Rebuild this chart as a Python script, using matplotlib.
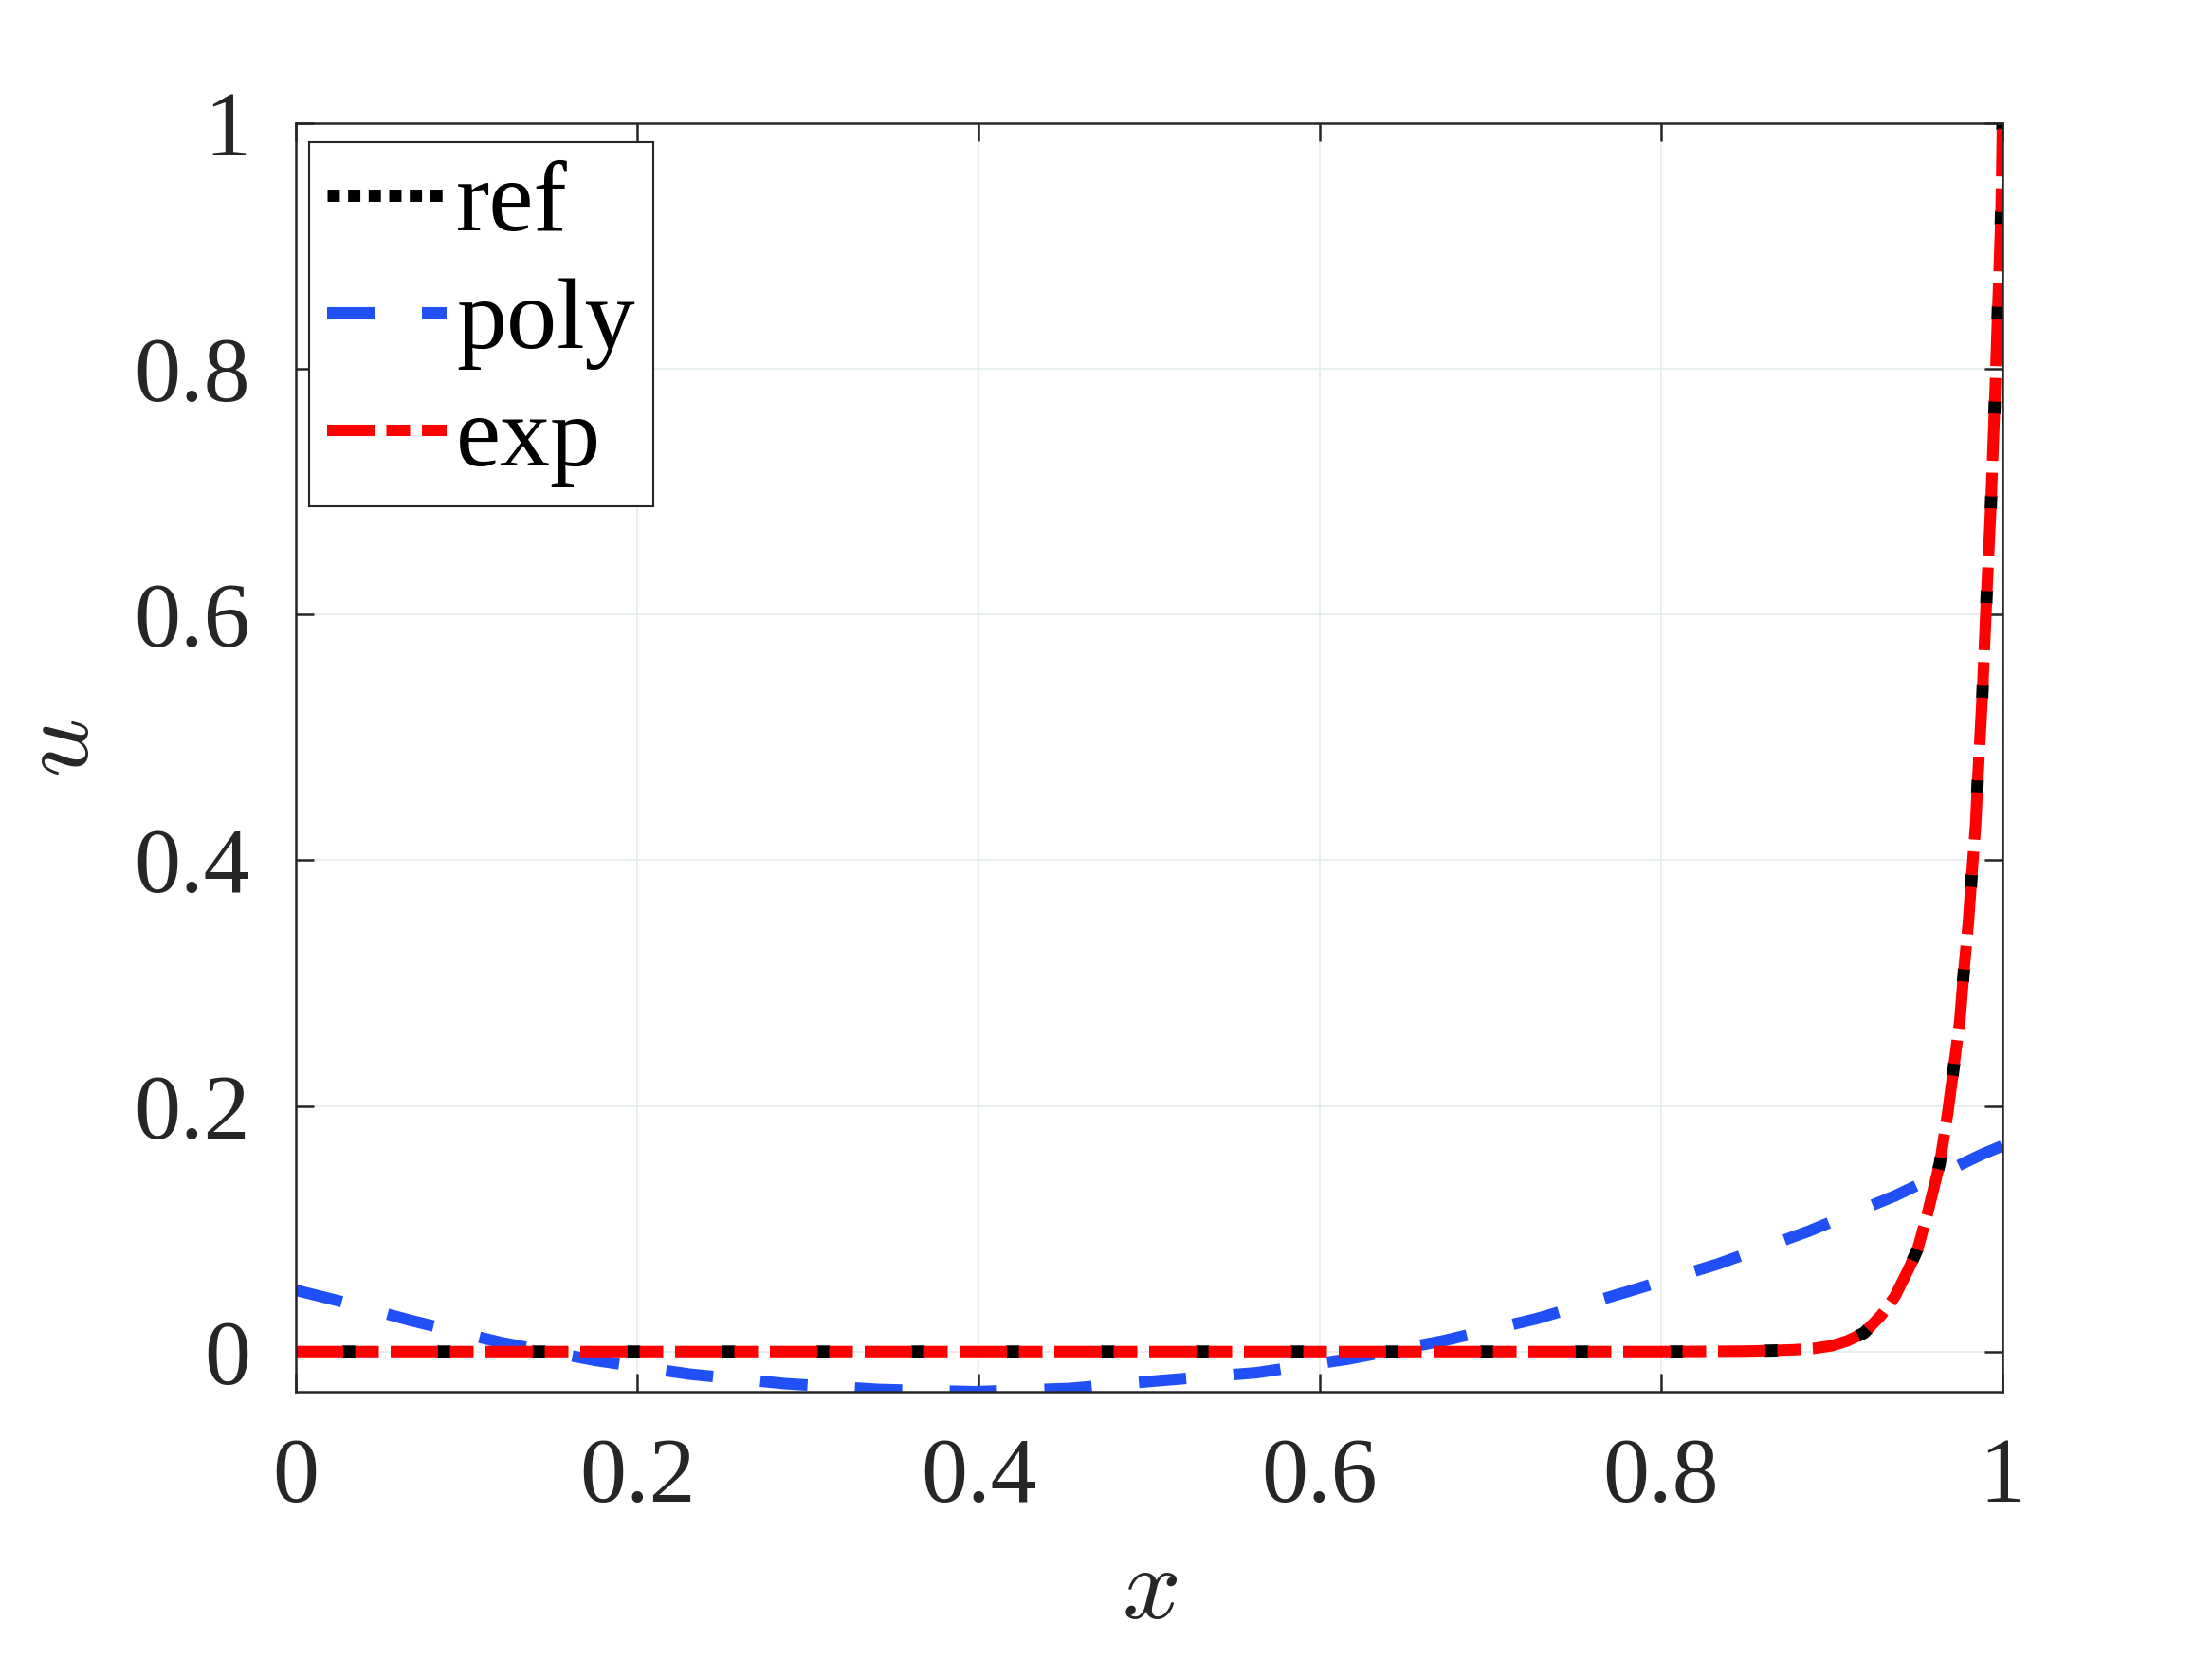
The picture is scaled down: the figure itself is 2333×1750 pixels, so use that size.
import numpy as np
import matplotlib
matplotlib.use('Agg')
from matplotlib import pyplot as plt
from matplotlib.lines import Line2D

plt.rcParams['font.family'] = ['Liberation Serif', 'DejaVu Serif']
plt.rcParams['mathtext.fontset'] = 'cm'
plt.rcParams['lines.scale_dashes'] = False

# values
x_poly = [0.0, 0.026, 0.067, 0.120, 0.176, 0.231, 0.287, 0.342, 0.398, 0.453,
          0.507, 0.563, 0.617, 0.672, 0.727, 0.780, 0.833, 0.886, 0.937, 0.988, 1.0]
u_poly = [0.050, 0.041, 0.0255, 0.0075, -0.0073, -0.0184, -0.0261, -0.0308, -0.0326, -0.0300,
          -0.0235, -0.0172, -0.0060, 0.0087, 0.0268, 0.0487, 0.0712, 0.0978, 0.1268, 0.1606, 0.1675]

x_ref = [0.0, 0.80, 0.850, 0.866, 0.878, 0.889, 0.900, 0.909, 0.9189, 0.9288, 0.937,
         0.9453, 0.9503, 0.9559, 0.9633, 0.968, 0.9713, 0.975, 0.9772, 0.980, 0.9818, 0.9843,
         0.9855, 0.9883, 0.9907, 0.9933, 0.9954, 0.9972, 0.9991, 0.9996, 1.0]
u_ref = [0.0, 0.0, 0.0004, 0.0009, 0.0015, 0.0025, 0.0048, 0.0087, 0.0152, 0.0294, 0.0449,
         0.0681, 0.0836, 0.1115, 0.1533, 0.195, 0.230, 0.269, 0.307, 0.349, 0.384, 0.4295,
         0.465, 0.537, 0.6145, 0.692, 0.7695, 0.845, 0.9226, 0.9587, 1.0]
x_exp = list(x_ref)
u_exp = list(u_ref)

ticks = [0, 0.2, 0.4, 0.6, 0.8, 1]
tick_labels = ['0', '0.2', '0.4', '0.6', '0.8', '1']
names = ['ref', 'poly', 'exp']

W, H = 2333, 1750
fig = plt.figure(figsize=(W / 300, H / 300), dpi=300)
ax = fig.add_axes([312 / W, 1 - 1468 / H, 1800 / W, 1338 / H])

ax.plot(x_ref, u_ref, color='black', lw=3.1, ls=(12.2, (3.4, 20.6)))
l_poly, = ax.plot(x_poly, u_poly, color='#2050f5', lw=2.9, ls=(0, (12, 12)))
l_exp, = ax.plot(x_exp, u_exp, color='#ff0000', lw=2.9, ls=(0, (12, 3, 6, 3)))

ax.set_xlim(0, 1)
ax.set_ylim(min(u_poly), 1)
ax.set_xticks(ticks)
ax.set_xticklabels(tick_labels)
ax.set_yticks(ticks)
ax.set_yticklabels(tick_labels)
ax.tick_params(direction='in', top=True, right=True, length=4.6, width=0.6,
               labelsize=23.5, colors='#262626', pad=11.5)
for s in ax.spines.values():
    s.set_linewidth(0.6)
    s.set_color('#262626')
ax.grid(True, color='#e6eeee', lw=0.45)
ax.set_axisbelow(True)

ax.set_xlabel('$x$', fontsize=26, va='center', color='#262626')
ax.xaxis.set_label_coords(0.5, (1468 - 1681) / 1338)
ax.set_ylabel('$u$', fontsize=26, va='center', color='#262626')
ax.yaxis.set_label_coords((67 - 312) / 1800, (1468 - 789) / 1338)

ref_proxy = Line2D([], [], color='black', lw=3.1, ls=(0, (3.1, 2.1)))
leg = ax.legend([ref_proxy, l_poly, l_exp], names, loc='upper left',
                bbox_to_anchor=(326 / W, 1 - 150 / H), bbox_transform=fig.transFigure,
                borderaxespad=0, fontsize=25.5, handlelength=1.18, handletextpad=0.1,
                borderpad=0.18, labelspacing=0.25, fancybox=False, framealpha=1)
leg.get_frame().set_edgecolor('#262626')
leg.get_frame().set_linewidth(0.5)

fig.savefig('out.png', dpi=300, facecolor='white')
